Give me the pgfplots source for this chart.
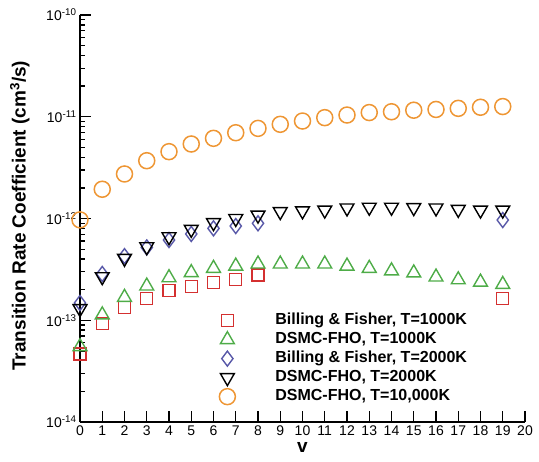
\documentclass[border=0pt]{standalone}
\usepackage{fontspec}
\setmainfont{Liberation Sans}
\usepackage{pgfplots}
\pgfplotsset{compat=1.18}
\definecolor{cred}{RGB}{212,48,48}
\definecolor{cgreen}{RGB}{78,172,72}
\definecolor{cblue}{RGB}{88,88,168}
\definecolor{corange}{RGB}{238,150,52}
\begin{document}
\begin{tikzpicture}
\begin{axis}[
  scale only axis, width=445pt, height=407pt,
  xmin=0, xmax=20, ymode=log, ymin=1e-14, ymax=1e-10,
  axis lines=left, axis line style={line width=1.6pt, -},
  xtick={0,...,20},
  ytick={1e-14,1e-13,1e-12,1e-11,1e-10},
  yticklabels={10\textsuperscript{-14},10\textsuperscript{-13},10\textsuperscript{-12},10\textsuperscript{-11},10\textsuperscript{-10}},
  minor ytick={2e-14,3e-14,4e-14,5e-14,6e-14,7e-14,8e-14,9e-14,
               2e-13,3e-13,4e-13,5e-13,6e-13,7e-13,8e-13,9e-13,
               2e-12,3e-12,4e-12,5e-12,6e-12,7e-12,8e-12,9e-12,
               2e-11,3e-11,4e-11,5e-11,6e-11,7e-11,8e-11,9e-11},
  tick align=inside, major tick length=11pt, minor tick length=5pt,
  every tick/.style={black, line width=1.3pt},
  tick label style={font=\fontsize{14}{16}\selectfont},
  /pgf/number format/assume math mode=true,
  xlabel={v},
  ylabel={Transition Rate Coefficient (cm\textsuperscript{3}/s)},
  label style={font=\fontsize{19}{22}\selectfont\bfseries},
  xlabel style={at={(rel axis cs:0.5,-0.062)}, anchor=center},
  ylabel style={at={(rel axis cs:-0.135,0.507)}, anchor=center},
  clip=false,
  legend image code/.code={\pgfpathrectangle{\pgfpoint{0pt}{-5pt}}{\pgfpoint{16pt}{10pt}}\pgfusepath{}\draw[line width=1.4pt,#1, only marks] plot coordinates {(8pt,0pt)};},
  legend style={at={(rel axis cs:0.306,0.276)}, anchor=north west, draw=none, fill=none,
     font=\fontsize{16}{18}\selectfont\bfseries,
     nodes={inner sep=2pt, text height=10.5pt, text depth=3pt},
     row sep=1.5pt,
     /tikz/every odd column/.append style={column sep=38pt}},
  legend cell align=left,
]
\addplot[only marks, mark=square, mark size=6pt, cred, line width=1.4pt, mark options={line width=1.4pt}] coordinates {
(0,4.66e-14)(1,9.33e-14)(2,1.34e-13)(3,1.64e-13)(4,1.95e-13)(5,2.14e-13)(6,2.34e-13)(7,2.53e-13)(8,2.79e-13)(19,1.64e-13)};
\addlegendentry{Billing \& Fisher, T=1000K}
\addplot[only marks, mark=triangle, mark size=8pt, cgreen, line width=1.4pt, mark options={line width=1.4pt}] coordinates {
(0,5.5e-14)(1,1.13e-13)(2,1.68e-13)(3,2.17e-13)(4,2.62e-13)(5,2.94e-13)(6,3.24e-13)(7,3.41e-13)(8,3.57e-13)(9,3.57e-13)
(10,3.57e-13)(11,3.57e-13)(12,3.41e-13)(13,3.24e-13)(14,3.06e-13)(15,2.92e-13)(16,2.66e-13)(17,2.50e-13)(18,2.37e-13)(19,2.25e-13)};
\addlegendentry{DSMC-FHO, T=1000K}
\addplot[only marks, mark=diamond, mark size=7.5pt, cblue, line width=1.4pt, mark options={line width=1.4pt}] coordinates {
(0,1.48e-13)(1,2.85e-13)(2,4.27e-13)(3,5.2e-13)(4,6.15e-13)(5,7.05e-13)(6,8.0e-13)(7,8.43e-13)(8,8.97e-13)(19,9.66e-13)};
\addlegendentry{Billing \& Fisher, T=2000K}
\addplot[only marks, mark=triangle, mark options={rotate=180, line width=1.4pt}, mark size=8pt, black, line width=1.4pt] coordinates {
(0,1.3e-13)(1,2.68e-13)(2,4.06e-13)(3,5.28e-13)(4,6.62e-13)(5,7.83e-13)(6,9.1e-13)(7,1.0e-12)(8,1.08e-12)(9,1.17e-12)
(10,1.19e-12)(11,1.21e-12)(12,1.27e-12)(13,1.29e-12)(14,1.29e-12)(15,1.28e-12)(16,1.27e-12)(17,1.23e-12)(18,1.21e-12)(19,1.21e-12)};
\addlegendentry{DSMC-FHO, T=2000K}
\addplot[only marks, mark=o, mark size=8pt, corange, line width=1.5pt, mark options={line width=1.5pt}] coordinates {
(0,0.97e-12)(1,1.94e-12)(2,2.74e-12)(3,3.70e-12)(4,4.54e-12)(5,5.40e-12)(6,6.14e-12)(7,6.97e-12)(8,7.69e-12)(9,8.43e-12)
(10,9.08e-12)(11,9.8e-12)(12,1.04e-11)(13,1.10e-11)(14,1.12e-11)(15,1.16e-11)(16,1.18e-11)(17,1.21e-11)(18,1.24e-11)(19,1.26e-11)};
\addlegendentry{DSMC-FHO, T=10,000K}
\end{axis}
\pgfresetboundingbox
\path ([xshift=-80pt,yshift=-39pt]current axis.south west) rectangle ([xshift=14pt,yshift=15pt]current axis.north east);
\end{tikzpicture}
\end{document}
